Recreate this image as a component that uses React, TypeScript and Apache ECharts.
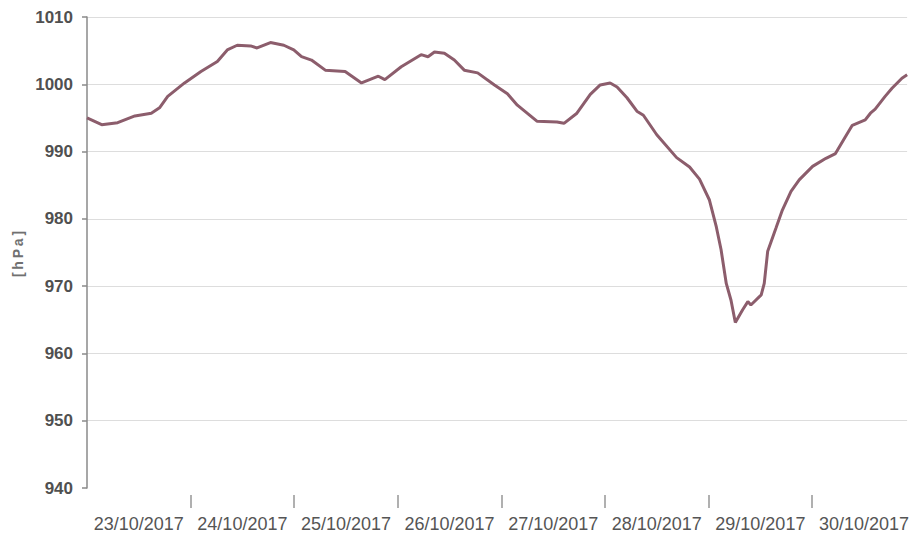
import React, { useEffect, useRef } from "react";
import * as echarts from "echarts";

// hours since 23/10/2017 00:00
const hours = [
  0, 3.4, 7.1, 11.1, 14.9, 16.8, 18.7, 22.6, 26.4, 30.2, 32.5, 34.8, 37.9, 39.4,
  42.5, 45.6, 47.9, 49.7, 52.0, 55.2, 59.8, 63.6, 67.5, 69.0, 72.8, 77.4, 79.0,
  80.5, 82.8, 85.1, 87.4, 90.5, 94.4, 97.4, 99.7, 104.3, 108.9, 110.5, 113.5,
  116.6, 118.9, 121.2, 122.8, 125.1, 127.4, 128.9, 132.0, 136.6, 139.6, 141.9,
  144.2, 145.8, 146.9, 148.1, 149.2, 150.2, 151.9, 153.1, 153.8, 156.2, 156.9,
  157.7, 159.6, 161.1, 163.1, 165.0, 168.1, 171.2, 173.4, 175.7, 177.3, 180.3,
  181.5, 182.6, 184.9, 186.5, 188.8, 190.0,
];
const pressure = [
  995.0, 994.0, 994.3, 995.3, 995.7, 996.5, 998.2, 1000.2, 1001.9, 1003.4, 1005.1,
  1005.8, 1005.7, 1005.4, 1006.2, 1005.8, 1005.1, 1004.1, 1003.6, 1002.1, 1001.9,
  1000.2, 1001.2, 1000.7, 1002.6, 1004.4, 1004.1, 1004.8, 1004.6, 1003.6, 1002.1,
  1001.7, 999.9, 998.6, 996.9, 994.5, 994.4, 994.2, 995.7, 998.5, 999.9, 1000.2,
  999.6, 998.0, 996.0, 995.4, 992.5, 989.1, 987.7, 985.9, 982.8, 978.8, 975.4,
  970.4, 967.9, 964.6, 966.5, 967.7, 967.2, 968.7, 970.4, 975.2, 978.6, 981.3,
  984.1, 985.8, 987.8, 989.0, 989.7, 992.2, 993.9, 994.7, 995.7, 996.3, 998.2,
  999.4, 1000.9, 1001.4,
];
const dayLabels = [
  "23/10/2017", "24/10/2017", "25/10/2017", "26/10/2017",
  "27/10/2017", "28/10/2017", "29/10/2017", "30/10/2017",
];
const dayTicks = [24, 48, 72, 96, 120, 144, 168];
const dayCentres = [12, 36, 60, 84, 108, 132, 156, 180];
const yTicks = { min: 940, max: 1010, step: 10 };

export default function App() {
  const ref = useRef<HTMLDivElement>(null);
  useEffect(() => {
    if (!ref.current) return;
    const chart = echarts.init(ref.current, null, { renderer: "svg" });
    const data = hours.map((h, i) => [h, pressure[i]]);
    chart.setOption({
      animation: false,
      backgroundColor: "#ffffff",
      grid: { left: 87, right: 0, top: 17, bottom: 47, containLabel: false },
      xAxis: {
        type: "value",
        min: 0,
        max: 190,
        offset: 7,
        axisLine: { show: false },
        splitLine: { show: false },
        axisTick: {
          show: true,
          customValues: dayTicks,
          length: 13,
          lineStyle: { color: "#b0b0b0", width: 2 },
        },
        axisLabel: {
          customValues: dayCentres,
          margin: 20,
          color: "#555555",
          fontFamily: "Liberation Sans, Arial, sans-serif",
          fontSize: 18,
          formatter: (v: number) => dayLabels[Math.floor(v / 24)] ?? "",
        },
      },
      yAxis: {
        type: "value",
        min: yTicks.min,
        max: yTicks.max,
        interval: yTicks.step,
        axisLine: { show: true, lineStyle: { color: "#8a8a8a", width: 1.5 } },
        axisTick: { show: true, length: 5, lineStyle: { color: "#8a8a8a", width: 1.5 } },
        axisLabel: {
          margin: 14,
          color: "#505050",
          fontWeight: "bold",
          fontFamily: "Liberation Sans, Arial, sans-serif",
          fontSize: 17,
          formatter: (v: number) => String(v),
        },
        splitLine: {
          show: true,
          lineStyle: {
            color: ["rgba(0,0,0,0)", "#dddddd", "#dddddd", "#dddddd", "#dddddd", "#dddddd", "#dddddd", "#dddddd"],
            width: 1,
          },
        },
      },
      graphic: [
        {
          type: "text",
          x: 18,
          y: 254,
          rotation: Math.PI / 2,
          style: {
            text: "[\u2009h\u2009P\u2009a\u2009]",
            fill: "#707070",
            font: "bold 14px 'Liberation Sans', Arial, sans-serif",
            align: "center",
            verticalAlign: "middle",
          },
        },
      ],
      series: [
        {
          type: "line",
          data,
          showSymbol: false,
          symbol: "none",
          lineStyle: { color: "#8c5d6c", width: 3 },
          z: 3,
        },
      ],
    });
    return () => chart.dispose();
  }, []);
  return (
    <div
      ref={ref}
      style={{ position: "fixed", left: 0, top: 0, width: 912, height: 535, background: "#fff" }}
    />
  );
}
